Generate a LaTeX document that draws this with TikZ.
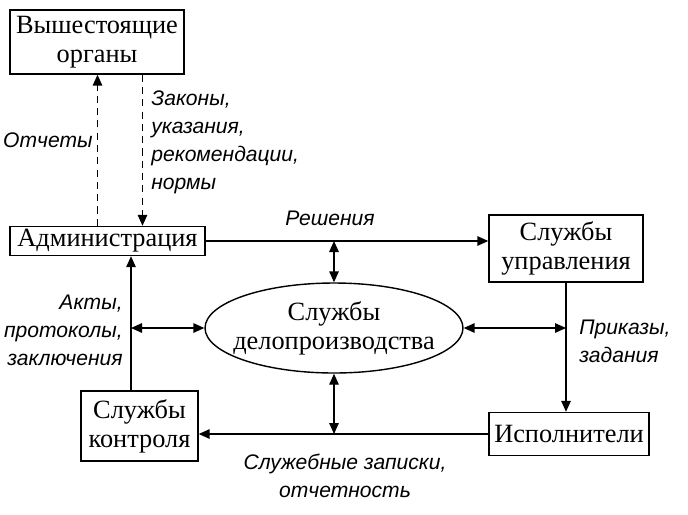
\documentclass[tikz,border=0pt]{standalone}
\usepackage{fontspec}
\setmainfont{Liberation Serif}
\newfontfamily\notefont{Liberation Sans}
\usetikzlibrary{arrows.meta,shapes.geometric}

\tikzset{
    unit/.style={draw, line width=0.8pt, align=center, inner sep=1pt,
        font=\fontsize{15}{16.5}\selectfont},
    doc/.style={ellipse, draw, line width=0.8pt, align=center, inner xsep=-6pt, inner ysep=0pt,
        font=\fontsize{15}{16.5}\selectfont},
    flow/.style={line width=0.8pt, -{Triangle[length=2.2mm,width=1.9mm]}},
    both/.style={line width=0.8pt, {Triangle[length=2.2mm,width=1.9mm]}-{Triangle[length=2.2mm,width=1.9mm]}},
    back/.style={dash pattern=on 4pt off 3pt},
    note/.style={font=\notefont\itshape\fontsize{12}{16}\selectfont, align=left, inner sep=0pt}
}

\begin{document}
\begin{tikzpicture}[x=0.02cm, y=-0.02cm]
    % Frame
    \useasboundingbox (0,0) rectangle (688,514);

    % Units
    \node[unit, minimum width=3.48cm, minimum height=1.28cm] (top) at (97,42) {Вышестоящие\\органы};
    \node[unit, minimum width=3.9cm, minimum height=0.58cm] (adm) at (107.5,241) {Администрация};
    \node[unit, minimum width=3.08cm, minimum height=1.34cm] (upr) at (566,248.5) {Службы\\управления};
    \node[doc, minimum width=5.16cm, minimum height=1.8cm] (doc) at (334,328) {Службы\\делопроизводства};
    \node[unit, minimum width=2.34cm, minimum height=1.4cm] (ctrl) at (139.5,426) {Службы\\контроля};
    \node[unit, minimum width=3.2cm, minimum height=0.86cm] (isp) at (569,434) {Исполнители};

    % Dashed links
    \coordinate (rep) at ([xshift=-0.2cm]adm.north);
    \coordinate (law) at ([xshift=0.7cm]adm.north);
    \draw[flow, back] (rep) -- (rep |- top.south);
    \draw[flow, back] (law |- top.south) -- (law);
    \node[note, anchor=east] (rep-t) at (93,140) {Отчеты};
    \node[note, anchor=north west] (law-t) at (151,90) {Законы,\\указания,\\рекомендации,\\нормы};

    % Decisions
    \draw[flow] (adm.east) -- (adm.east -| upr.west);
    \node[note] (dec-t) at (330,218) {Решения};
    \draw[both] (doc.north) -- (doc.north |- adm.east);

    % Control
    \coordinate (up) at ([xshift=-0.17cm]ctrl.north);
    \draw[flow] (up) -- (up |- adm.south);
    \draw[both] (doc.west) -- (doc.west -| up);
    \node[note, anchor=east, align=right] (act-t) at (123,330) {Акты,\\протоколы,\\заключения};

    % Orders
    \draw[flow] (upr.south) -- (upr.south |- isp.north);
    \draw[both] (doc.east) -- (doc.east -| upr.south);
    \node[note, anchor=west] (ord-t) at (579,341) {Приказы,\\задания};

    % Reports
    \draw[flow] (isp.west) -- (isp.west -| ctrl.east);
    \draw[both] (doc.south) -- (doc.south |- isp.west);
    \node[note, align=center] (memo-t) at (345,476) {Служебные записки,\\отчетность};
\end{tikzpicture}
\end{document}
